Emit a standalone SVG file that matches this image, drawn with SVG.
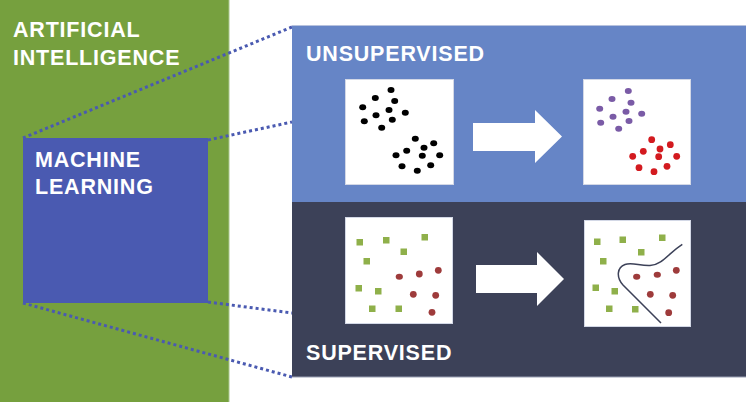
<svg xmlns="http://www.w3.org/2000/svg" width="747" height="402" viewBox="0 0 747 402">
<style>
.lbl{font-family:"Liberation Sans",Arial,sans-serif;font-weight:bold;font-size:21.5px;fill:#ffffff;letter-spacing:0.8px}
.box{fill:#ffffff;stroke:#D3D8E6;stroke-width:1}
.blk{fill:#000000}
.pur{fill:#7A5BA6}
.red{fill:#D31A1F}
.brn{fill:#9E3B3B}
.grn{fill:#8FB04A}
.dot{fill:none;stroke:#4A5AB1;stroke-width:3;stroke-dasharray:3 3}
.arw{fill:#ffffff}
</style>
<rect width="747" height="402" fill="#ffffff"/>
<g id="ai">
<rect x="0" y="0" width="229" height="402" fill="#76A03E"/>
<line x1="229" y1="0" x2="229" y2="402" stroke="#A9C68C" stroke-width="1"/>
<text class="lbl" x="13" y="37">ARTIFICIAL</text>
<text class="lbl" x="13" y="65">INTELLIGENCE</text>
</g>
<g id="ml">
<rect x="23" y="138" width="185" height="165" fill="#4A5AB1"/>
<text class="lbl" x="35" y="167">MACHINE</text>
<text class="lbl" x="35" y="194">LEARNING</text>
</g>
<g id="connectors">
<line class="dot" x1="23" y1="138" x2="292" y2="27"/>
<line class="dot" x1="208" y1="140" x2="292" y2="122"/>
<line class="dot" x1="208" y1="302" x2="292" y2="313"/>
<line class="dot" x1="23" y1="303" x2="292" y2="377"/>
</g>
<g id="unsupervised">
<rect x="292" y="25.5" width="454" height="177" fill="#6685C6"/>
<line x1="292" y1="25.5" x2="746" y2="25.5" stroke="#B7C2DE" stroke-width="1"/>
<text class="lbl" x="306" y="61">UNSUPERVISED</text>
<rect class="box" x="345.5" y="79.5" width="108" height="105"/>
<g class="blk">
<ellipse cx="391" cy="90" rx="3.5" ry="3"/>
<ellipse cx="375.3" cy="98" rx="3.5" ry="3"/>
<ellipse cx="394.7" cy="101" rx="3.5" ry="3"/>
<ellipse cx="362.7" cy="107.3" rx="3.5" ry="3"/>
<ellipse cx="389" cy="110" rx="3.5" ry="3"/>
<ellipse cx="405.3" cy="112.7" rx="3.5" ry="3"/>
<ellipse cx="376" cy="115.3" rx="3.5" ry="3"/>
<ellipse cx="364.3" cy="121.3" rx="3.5" ry="3"/>
<ellipse cx="392.3" cy="119.7" rx="3.5" ry="3"/>
<ellipse cx="381.7" cy="127.7" rx="3.5" ry="3"/>
<ellipse cx="415.3" cy="138.7" rx="3.5" ry="3"/>
<ellipse cx="433.7" cy="143.3" rx="3.5" ry="3"/>
<ellipse cx="424" cy="147.7" rx="3.5" ry="3"/>
<ellipse cx="406.7" cy="150.7" rx="3.5" ry="3"/>
<ellipse cx="396" cy="155.3" rx="3.5" ry="3"/>
<ellipse cx="422.3" cy="155.7" rx="3.5" ry="3"/>
<ellipse cx="439.7" cy="155.3" rx="3.5" ry="3"/>
<ellipse cx="402" cy="166.3" rx="3.5" ry="3"/>
<ellipse cx="430.7" cy="165.3" rx="3.5" ry="3"/>
<ellipse cx="417.3" cy="170.7" rx="3.5" ry="3"/>
</g>
<path class="arw" d="M473,123 L535,123 L535,110 L562,136.5 L535,163 L535,151 L473,151 Z"/>
<rect class="box" x="583.5" y="79.5" width="107" height="105"/>
<g class="pur">
<ellipse cx="628.3" cy="91" rx="3.5" ry="3"/>
<ellipse cx="612" cy="99" rx="3.5" ry="3"/>
<ellipse cx="631" cy="102.7" rx="3.5" ry="3"/>
<ellipse cx="599.7" cy="108.7" rx="3.5" ry="3"/>
<ellipse cx="626" cy="111.7" rx="3.5" ry="3"/>
<ellipse cx="641.7" cy="113.7" rx="3.5" ry="3"/>
<ellipse cx="613" cy="116.7" rx="3.5" ry="3"/>
<ellipse cx="600.7" cy="122.7" rx="3.5" ry="3"/>
<ellipse cx="629" cy="121" rx="3.5" ry="3"/>
<ellipse cx="618.7" cy="128.7" rx="3.5" ry="3"/>
</g>
<g class="red">
<ellipse cx="651.7" cy="139.7" rx="3.4" ry="3.4"/>
<ellipse cx="670.3" cy="144.7" rx="3.4" ry="3.4"/>
<ellipse cx="660" cy="149" rx="3.4" ry="3.4"/>
<ellipse cx="643.3" cy="151.3" rx="3.4" ry="3.4"/>
<ellipse cx="632.7" cy="156.3" rx="3.4" ry="3.4"/>
<ellipse cx="658.7" cy="156.7" rx="3.4" ry="3.4"/>
<ellipse cx="676.7" cy="156.3" rx="3.4" ry="3.4"/>
<ellipse cx="639" cy="167.7" rx="3.4" ry="3.4"/>
<ellipse cx="667" cy="166.3" rx="3.4" ry="3.4"/>
<ellipse cx="654" cy="171.7" rx="3.4" ry="3.4"/>
</g>
</g>
<g id="supervised">
<rect x="292" y="202" width="454" height="175" fill="#3C4158"/>
<line x1="292" y1="377" x2="746" y2="377" stroke="#9AA0B4" stroke-width="1"/>
<text class="lbl" x="306" y="360">SUPERVISED</text>
<rect class="box" x="345.5" y="217.5" width="107" height="106"/>
<g class="grn">
<rect x="356.5" y="239" width="6.5" height="6.5"/>
<rect x="383" y="237" width="6.5" height="6.5"/>
<rect x="421.5" y="234" width="6.5" height="6.5"/>
<rect x="400.5" y="248.5" width="6.5" height="6.5"/>
<rect x="363.5" y="258" width="6.5" height="6.5"/>
<rect x="355.5" y="285" width="6.5" height="6.5"/>
<rect x="375" y="288" width="6.5" height="6.5"/>
<rect x="369" y="305.5" width="6.5" height="6.5"/>
<rect x="395.5" y="305.5" width="6.5" height="6.5"/>
</g>
<g class="brn">
<ellipse cx="399.3" cy="276.7" rx="3.6" ry="3"/>
<ellipse cx="419.3" cy="274" rx="3.4" ry="3.4"/>
<ellipse cx="438.3" cy="270.3" rx="3.4" ry="3.4"/>
<ellipse cx="413.3" cy="294.3" rx="3.4" ry="3.4"/>
<ellipse cx="435.7" cy="295.3" rx="3.4" ry="3.4"/>
<ellipse cx="432" cy="312.3" rx="3.4" ry="3.4"/>
</g>
<path class="arw" d="M476,265 L537,265 L537,252 L564,279 L537,306 L537,293 L476,293 Z"/>
<rect class="box" x="584.5" y="220.5" width="106" height="106"/>
<g class="grn">
<rect x="594" y="238.5" width="6.5" height="6.5"/>
<rect x="619.5" y="236.5" width="6.5" height="6.5"/>
<rect x="659" y="234.5" width="6.5" height="6.5"/>
<rect x="638" y="249" width="6.5" height="6.5"/>
<rect x="600" y="258" width="6.5" height="6.5"/>
<rect x="592.5" y="284.5" width="6.5" height="6.5"/>
<rect x="611.5" y="288" width="6.5" height="6.5"/>
<rect x="606" y="305.5" width="6.5" height="6.5"/>
<rect x="632" y="306" width="6.5" height="6.5"/>
</g>
<g class="brn">
<ellipse cx="636.7" cy="276.7" rx="3.6" ry="3"/>
<ellipse cx="657.3" cy="274.7" rx="3.6" ry="3"/>
<ellipse cx="676.3" cy="270.3" rx="3.4" ry="3.4"/>
<ellipse cx="650.3" cy="294.3" rx="3.4" ry="3.4"/>
<ellipse cx="672.7" cy="295.3" rx="3.4" ry="3.4"/>
<ellipse cx="668.7" cy="312.7" rx="3.4" ry="3.4"/>
</g>
<path d="M682.3,244.3 C670,252 662,265 650,265.5 C640,266 632,262 625,264.5 C617,267.5 616,277 623,285 L661,323" fill="none" stroke="#3C4158" stroke-width="1.5"/>
</g>
</svg>
